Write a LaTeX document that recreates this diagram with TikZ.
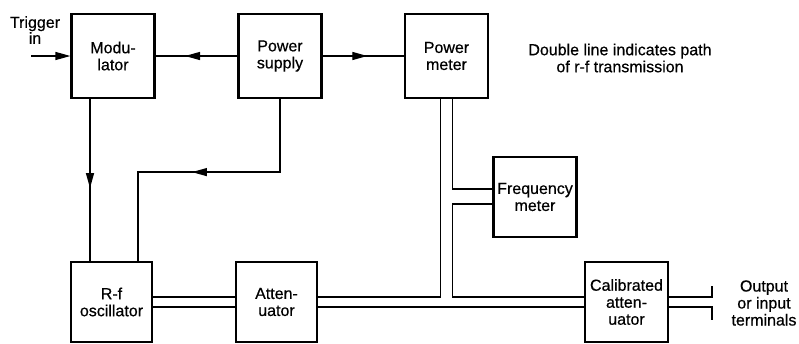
\documentclass[tikz,border=0pt]{standalone}
\usepackage{fontspec}
\setmainfont{Liberation Sans}[FakeBold=0.5]
\usepackage{tikz}
\usetikzlibrary{arrows.meta,positioning,calc,decorations.markings}

\begin{document}
\begin{tikzpicture}[x=1pt,y=-1pt,
        font=\fontsize{16}{17}\selectfont,
        block/.style={draw,line width=2.2pt,minimum width=83pt,minimum height=84pt,inner sep=1pt,align=center},
        lowblock/.style={block,minimum height=80pt},
        note/.style={align=center,inner sep=0pt},
        arrow/.style={line width=1.3pt,-{Triangle[length=15pt,width=8pt]}},
        flow/.style={line width=1.3pt,postaction={decorate},
            decoration={markings,mark=at position #1 with {\arrow{Triangle[length=15pt,width=8pt]}}}},
        rfline/.style={line width=1.3pt},
    ]
    \useasboundingbox (0,0) rectangle (799,343);

    \node[block] (mod) at (113,56) {Modu-\\lator};
    \node[block] (ps)  at (280,56) {Power\\supply};
    \node[block] (pm)  at (446.5,56) {Power\\meter};
    \node[block,minimum height=80pt] (fm) at (535,197) {Frequency\\meter};

    \node[lowblock,minimum width=81pt] (rfo) at (111.5,302) {R-f\\oscillator};
    \node[lowblock,minimum width=81pt] (att) at (276.5,302) {Atten-\\uator};
    \node[lowblock] (cal) at (626.5,302) {Calibrated\\atten-\\uator};

    \node[note,font=\fontsize{16}{14}\selectfont] (trigtxt) at (35,30) {Trigger\\in};
    \node[note] (rfnote) at (620,58) {Double line indicates path\\of r-f transmission};
    \node[note] (term) at (764,303) {Output\\or input\\terminals};

    \coordinate (trig)  at (31,56);
    \coordinate (termA) at (712,286);
    \coordinate (termB) at (712,320);

    % control paths
    \draw[arrow] (trig) -- (mod.west);
    \draw[flow=0.64] (ps.west) -- (mod.east);
    \draw[flow=0.55] (ps.east) -- (pm.west);
    \draw[flow=0.55] ([xshift=-23pt]mod.south) -- ([xshift=-23pt]mod.south |- rfo.north);
    \draw[flow=0.53] (ps.south) -- ++(0,73) -| ([xshift=26.5pt]rfo.north);

    % r-f paths (double line)
    \draw[rfline] ([yshift=5pt]rfo.east) -- ([yshift=5pt]att.west);
    \draw[rfline] ([yshift=-5pt]rfo.east) -- ([yshift=-5pt]att.west);
    \draw[rfline] ([yshift=5pt]att.east) -| ([xshift=-6pt]pm.south);
    \draw[rfline] ([yshift=-5pt]att.east) -- ([yshift=-5pt]cal.west);
    \draw[rfline] ([xshift=6pt]pm.south) |- ([yshift=8pt]fm.west);
    \draw[rfline] ([yshift=-7pt]fm.west) -| ($(pm.south |- cal.west)+(6,-5)$) -- ([yshift=5pt]cal.west);
    \draw[rfline] ([yshift=5pt]cal.east) -| (termA);
    \draw[rfline] ([yshift=-5pt]cal.east) -| (termB);
\end{tikzpicture}
\end{document}
